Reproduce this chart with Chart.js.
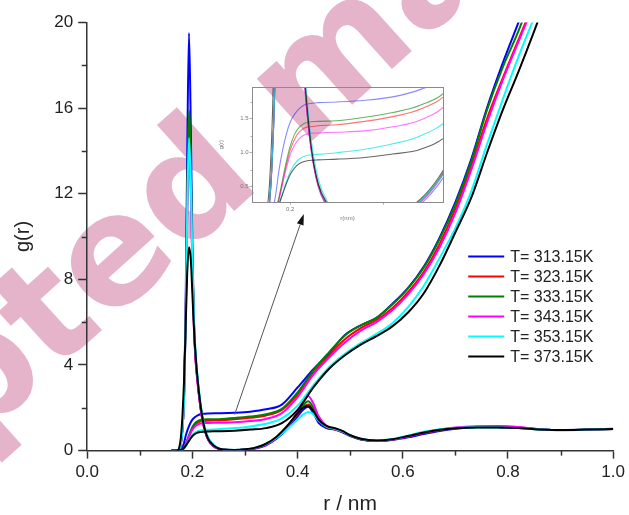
<!DOCTYPE html>
<html><head><meta charset="utf-8">
<script src="https://cdn.jsdelivr.net/npm/chart.js@4.4.1/dist/chart.umd.min.js"></script>
<style>
html,body{margin:0;padding:0;background:#fff;}
#wrap{position:relative;width:629px;height:515px;overflow:hidden;}
#main{position:absolute;left:0;top:0;}
#inset{position:absolute;left:212px;top:80px;}
</style></head><body>
<div id="wrap"><canvas id="main" width="629" height="515"></canvas><canvas id="inset" width="240" height="150"></canvas></div>
<script>
const F = "'Liberation Sans', Arial, sans-serif";
const temps = ['313.15', '323.15', '333.15', '343.15', '353.15', '373.15'];
const xTicksMain = [0, 0.2, 0.4, 0.6, 0.8, 1.0];
const yTicksMain = [0, 4, 8, 12, 16, 20];
const watermarkText = 'Accepted manuscript';

// r grid for g(r)
const rG = [0.16, 0.172, 0.175, 0.178, 0.181, 0.184, 0.187, 0.19, 0.1935, 0.197, 0.2, 0.203, 0.206, 0.21, 0.214, 0.218, 0.223, 0.23, 0.24, 0.25, 0.26, 0.28, 0.30, 0.32, 0.34, 0.36, 0.38, 0.40, 0.41, 0.42, 0.43, 0.44, 0.455, 0.47, 0.485, 0.50, 0.52, 0.55, 0.58, 0.61, 0.64, 0.67, 0.70, 0.74, 0.78, 0.82, 0.86, 0.90, 0.95, 1.00];
const g313 = [0, 0, 0.05, 0.3, 1.0, 2.4, 6.5, 13.5, 19.5, 15.0, 9.5, 6.0, 4.3, 3.2, 2.3, 1.6, 1.0, 0.5, 0.2, 0.08, 0.04, 0.02, 0.04, 0.1, 0.25, 0.55, 1.0, 1.6, 1.9, 2.05, 1.75, 1.3, 1.05, 0.98, 0.85, 0.68, 0.52, 0.45, 0.5, 0.62, 0.78, 0.92, 1.02, 1.1, 1.12, 1.08, 1.0, 0.96, 0.98, 1.02];
const g323 = [0, 0, 0.05, 0.3, 1.0, 2.4, 5.8, 11.2, 15.0, 12.6, 8.6, 5.8, 4.3, 3.2, 2.3, 1.6, 1.0, 0.52, 0.22, 0.09, 0.04, 0.02, 0.05, 0.12, 0.28, 0.6, 1.1, 1.7, 2.0, 2.15, 1.9, 1.45, 1.1, 1.0, 0.88, 0.7, 0.53, 0.45, 0.52, 0.66, 0.82, 0.95, 1.04, 1.1, 1.1, 1.06, 0.99, 0.96, 0.98, 1.01];
const g333 = [0, 0, 0.05, 0.3, 1.0, 2.4, 6.0, 11.8, 15.9, 13.3, 9.0, 6.0, 4.4, 3.25, 2.35, 1.65, 1.02, 0.54, 0.23, 0.09, 0.04, 0.02, 0.05, 0.13, 0.3, 0.62, 1.12, 1.75, 2.1, 2.3, 2.0, 1.5, 1.12, 1.02, 0.9, 0.7, 0.53, 0.45, 0.52, 0.68, 0.85, 0.97, 1.05, 1.09, 1.09, 1.05, 0.99, 0.96, 0.98, 1.01];
const g343 = [0, 0, 0.05, 0.3, 1.0, 2.3, 5.7, 10.8, 14.3, 12.0, 8.3, 5.6, 4.2, 3.1, 2.25, 1.58, 0.98, 0.52, 0.22, 0.09, 0.04, 0.02, 0.05, 0.12, 0.28, 0.6, 1.1, 1.8, 2.3, 2.55, 2.2, 1.6, 1.15, 1.02, 0.9, 0.72, 0.55, 0.46, 0.52, 0.66, 0.84, 0.98, 1.08, 1.14, 1.15, 1.1, 1.0, 0.95, 0.97, 1.01];
const g353 = [0, 0, 0.05, 0.3, 1.0, 2.3, 5.6, 10.9, 14.6, 12.5, 8.8, 6.1, 4.6, 3.4, 2.5, 1.8, 1.15, 0.62, 0.28, 0.12, 0.05, 0.03, 0.06, 0.14, 0.3, 0.6, 1.0, 1.45, 1.68, 1.8, 1.7, 1.4, 1.12, 1.02, 0.9, 0.72, 0.55, 0.47, 0.54, 0.7, 0.88, 1.0, 1.06, 1.09, 1.08, 1.05, 0.99, 0.96, 0.98, 1.01];
const g373 = [0, 0, 0.15, 0.6, 1.6, 3.2, 5.6, 8.2, 9.5, 8.9, 7.3, 5.7, 4.5, 3.3, 2.4, 1.7, 1.05, 0.55, 0.25, 0.1, 0.05, 0.03, 0.06, 0.14, 0.32, 0.65, 1.15, 1.75, 2.0, 2.08, 1.85, 1.45, 1.15, 1.05, 0.92, 0.72, 0.55, 0.47, 0.53, 0.68, 0.85, 0.97, 1.04, 1.08, 1.08, 1.05, 0.99, 0.96, 0.98, 1.01];

// r grid for running coordination number
const rN = [0.17, 0.176, 0.18, 0.184, 0.188, 0.192, 0.196, 0.2, 0.205, 0.21, 0.215, 0.22, 0.23, 0.25, 0.28, 0.31, 0.34, 0.37, 0.4, 0.43, 0.46, 0.49, 0.52, 0.55, 0.58, 0.61, 0.64, 0.67, 0.7, 0.73, 0.76, 0.79, 0.82, 0.85, 0.88];
const n313 = [0, 0.02, 0.1, 0.35, 0.75, 1.05, 1.28, 1.45, 1.57, 1.65, 1.7, 1.72, 1.735, 1.745, 1.77, 1.82, 1.93, 2.15, 2.95, 3.8, 4.55, 5.4, 5.85, 6.2, 6.85, 7.6, 8.6, 9.95, 11.6, 13.6, 16.0, 18.1, 20.0, 21.9, 23.9];
const n323 = [0, 0.01, 0.04, 0.14, 0.33, 0.58, 0.83, 1.04, 1.21, 1.31, 1.36, 1.38, 1.395, 1.41, 1.46, 1.53, 1.64, 1.9, 2.62, 3.62, 4.45, 5.2, 5.72, 6.1, 6.65, 7.4, 8.35, 9.65, 11.3, 13.3, 15.5, 17.4, 19.2, 21.0, 22.9];
const n333 = [0, 0.01, 0.04, 0.15, 0.35, 0.62, 0.88, 1.1, 1.28, 1.38, 1.43, 1.45, 1.46, 1.47, 1.52, 1.59, 1.7, 1.95, 2.72, 3.75, 4.6, 5.38, 5.85, 6.2, 6.82, 7.58, 8.55, 9.88, 11.5, 13.5, 15.9, 17.9, 19.6, 21.6, 23.6];
const n343 = [0, 0.01, 0.04, 0.13, 0.31, 0.55, 0.78, 0.97, 1.12, 1.21, 1.26, 1.28, 1.29, 1.3, 1.32, 1.38, 1.48, 1.75, 2.5, 3.55, 4.35, 5.05, 5.6, 6.0, 6.55, 7.3, 8.25, 9.5, 11.1, 13.1, 15.3, 17.3, 19.1, 20.9, 22.8];
const n353 = [0, 0.01, 0.03, 0.1, 0.23, 0.41, 0.58, 0.72, 0.84, 0.91, 0.945, 0.965, 0.975, 1.0, 1.05, 1.13, 1.25, 1.5, 2.1, 3.05, 3.9, 4.52, 5.02, 5.45, 5.95, 6.7, 7.7, 9.0, 10.4, 12.1, 14.3, 16.4, 18.4, 20.25, 22.1];
const n373 = [0, 0.02, 0.05, 0.12, 0.25, 0.4, 0.55, 0.68, 0.78, 0.84, 0.87, 0.885, 0.895, 0.905, 0.93, 0.98, 1.05, 1.28, 1.9, 2.95, 3.82, 4.45, 4.95, 5.35, 5.8, 6.45, 7.35, 8.65, 10.2, 11.8, 13.9, 15.9, 17.7, 19.6, 21.6];

// arrow from the plateau to the inset (data coordinates)
const arrowFrom = [0.2803, 1.684];
const arrowTo = [0.4118, 11.05];

const gSeries = [g313, g323, g333, g343, g353, g373];
const nSeries = [n313, n323, n333, n343, n353, n373];
const colors = ['#0000ff', '#ff0000', '#008000', '#ff00ff', '#00ffff', '#000000'];
const insetColors = ['rgba(40,40,255,0.55)', 'rgba(255,0,0,0.55)', 'rgba(0,128,0,0.6)', 'rgba(255,0,255,0.55)', 'rgba(0,230,230,0.7)', 'rgba(0,0,0,0.6)'];

function pts(xs, ys) { return xs.map((x, i) => ({x: x, y: ys[i]})); }

function buildDatasets(cols, width) {
  const ds = [];
  temps.forEach((t, i) => {
    const common = {borderColor: cols[i], backgroundColor: cols[i], borderWidth: width, pointRadius: 0, fill: false, cubicInterpolationMode: 'monotone', order: 6 - i};
    ds.push(Object.assign({label: 'T= ' + t + 'K', data: pts(rG, gSeries[i])}, common));
    ds.push(Object.assign({label: 'N ' + t, data: pts(rN, nSeries[i])}, common));
  });
  return ds;
}

const minorTicks = {
  id: 'minorTicks',
  afterDraw(c, args, o) {
    const ctx = c.ctx; ctx.save();
    ctx.strokeStyle = o.color; ctx.lineWidth = o.width;
    const xs = c.scales.x, ys = c.scales.y;
    (o.x || []).forEach(v => { const p = Math.round(xs.getPixelForValue(v)) + 0.5; ctx.beginPath(); ctx.moveTo(p, ys.bottom); ctx.lineTo(p, ys.bottom + o.xLen); ctx.stroke(); });
    (o.y || []).forEach(v => { const p = Math.round(ys.getPixelForValue(v)) + 0.5; ctx.beginPath(); ctx.moveTo(xs.left, p); ctx.lineTo(xs.left - o.yLen, p); ctx.stroke(); });
    ctx.restore();
  }
};

const watermark = {
  id: 'watermark',
  beforeDraw(c) {
    const ctx = c.ctx; ctx.save();
    const fs = 152;
    ctx.font = 'bold ' + fs + 'px "DejaVu Sans", sans-serif';
    ctx.fillStyle = '#e5b4cb';
    const pre = ctx.measureText('Accept').width;
    const ew = ctx.measureText('e').width;
    const a = pre + ew / 2, b = -0.28 * fs;
    const th = -42 * Math.PI / 180;
    const tx = 116, ty = 260;
    const ox = tx - (a * Math.cos(th) - b * Math.sin(th));
    const oy = ty - (a * Math.sin(th) + b * Math.cos(th));
    ctx.translate(ox, oy); ctx.rotate(th);
    ctx.fillText(watermarkText, 0, 0);
    ctx.restore();
  }
};

const legendBox = {
  id: 'legendBox',
  afterDatasetsDraw(c) {
    const a = c.chartArea, ctx = c.ctx; ctx.save();
    ctx.font = '16px ' + F; ctx.textBaseline = 'middle';
    temps.forEach((t, i) => {
      const y = a.top + 234 + i * 20;
      ctx.strokeStyle = colors[i]; ctx.lineWidth = 2;
      ctx.beginPath(); ctx.moveTo(a.left + 381, y); ctx.lineTo(a.left + 417, y); ctx.stroke();
      ctx.fillStyle = '#222'; ctx.fillText('T= ' + t + 'K', a.left + 423, y + 1);
    });
    ctx.restore();
  }
};

const arrow = {
  id: 'arrow',
  afterDatasetsDraw(c) {
    const xs = c.scales.x, ys = c.scales.y, ctx = c.ctx;
    const x0 = xs.getPixelForValue(arrowFrom[0]), y0 = ys.getPixelForValue(arrowFrom[1]);
    const x1 = xs.getPixelForValue(arrowTo[0]), y1 = ys.getPixelForValue(arrowTo[1]);
    const ang = Math.atan2(y1 - y0, x1 - x0);
    const L = 11, W = 3.5;
    const bx = x1 - L * Math.cos(ang), by = y1 - L * Math.sin(ang);
    ctx.save();
    ctx.strokeStyle = '#555'; ctx.lineWidth = 1;
    ctx.beginPath(); ctx.moveTo(x0, y0); ctx.lineTo(bx, by); ctx.stroke();
    ctx.fillStyle = '#111';
    ctx.beginPath(); ctx.moveTo(x1, y1);
    ctx.lineTo(bx + W * Math.sin(ang), by - W * Math.cos(ang));
    ctx.lineTo(bx - W * Math.sin(ang), by + W * Math.cos(ang));
    ctx.closePath(); ctx.fill();
    ctx.restore();
  }
};

const frame = {
  id: 'frame',
  afterDraw(c) {
    const a = c.chartArea, ctx = c.ctx; ctx.save();
    ctx.strokeStyle = '#8a8a8a'; ctx.lineWidth = 1;
    ctx.strokeRect(Math.round(a.left) + 0.5, Math.round(a.top) + 0.5, Math.round(a.right - a.left), Math.round(a.bottom - a.top));
    ctx.restore();
  }
};

new Chart(document.getElementById('main'), {
  type: 'line',
  data: {datasets: buildDatasets(colors, 2)},
  plugins: [watermark, minorTicks, legendBox, arrow],
  options: {
    responsive: false, animation: false, events: [],
    layout: {padding: {left: 11.3, right: 14, top: 22.4, bottom: 0}},
    plugins: {
      legend: {display: false}, tooltip: {enabled: false},
      minorTicks: {x: [0.1, 0.3, 0.5, 0.7, 0.9], y: [2, 6, 10, 14, 18], xLen: 5, yLen: 5.5, color: '#333', width: 1.5}
    },
    scales: {
      x: {
        type: 'linear', min: 0, max: 1,
        border: {color: '#333', width: 1.5},
        grid: {drawOnChartArea: false, drawTicks: true, tickLength: 8, tickColor: '#333', tickWidth: 1.5},
        afterBuildTicks: s => { s.ticks = xTicksMain.map(v => ({value: v})); },
        ticks: {font: {size: 17, family: F}, color: '#222', padding: 4, maxRotation: 0, autoSkip: false, callback: v => v.toFixed(1)},
        title: {display: true, text: 'r / nm', font: {size: 21, family: F, lineHeight: 1}, color: '#222', padding: {top: 7, bottom: 0}}
      },
      y: {
        type: 'linear', min: 0, max: 20,
        border: {color: '#333', width: 1.5},
        grid: {drawOnChartArea: false, drawTicks: true, tickLength: 9, tickColor: '#333', tickWidth: 1.5},
        afterBuildTicks: s => { s.ticks = yTicksMain.map(v => ({value: v})); },
        ticks: {font: {size: 17, family: F}, color: '#222', padding: 5, autoSkip: false, callback: v => String(v)},
        title: {display: true, text: 'g(r)', font: {size: 20, family: F}, color: '#222', padding: {top: 0, bottom: 14}}
      }
    }
  }
});

new Chart(document.getElementById('inset'), {
  type: 'line',
  data: {datasets: buildDatasets(insetColors, 1.1)},
  plugins: [frame, minorTicks],
  options: {
    responsive: false, animation: false, events: [],
    layout: {padding: {left: 6, right: 9, top: 7, bottom: 8}},
    plugins: {
      legend: {display: false}, tooltip: {enabled: false},
      minorTicks: {x: [], y: [0.75, 1.25, 1.75], xLen: 2, yLen: 1.5, color: '#999', width: 0.8}
    },
    scales: {
      x: {
        type: 'linear', min: 0.159, max: 0.364,
        border: {color: '#8a8a8a', width: 1},
        grid: {drawOnChartArea: false, tickLength: 2.5, tickColor: '#999', tickWidth: 0.8},
        afterBuildTicks: s => { s.ticks = [0.2, 0.3].map(v => ({value: v})); },
        ticks: {font: {size: 6, family: F}, color: '#777', padding: 1, maxRotation: 0, autoSkip: false, callback: v => (Math.abs(v - 0.2) < 1e-9 ? '0.2' : '')},
        title: {display: true, text: 'r(nm)', font: {size: 6, family: F}, color: '#777', padding: {top: 1, bottom: 0}}
      },
      y: {
        type: 'linear', min: 0.274, max: 1.965,
        border: {color: '#8a8a8a', width: 1},
        grid: {drawOnChartArea: false, tickLength: 2.5, tickColor: '#999', tickWidth: 0.8},
        afterBuildTicks: s => { s.ticks = [0.5, 1.0, 1.5].map(v => ({value: v})); },
        ticks: {font: {size: 6, family: F}, color: '#777', padding: 1, autoSkip: false, callback: v => v.toFixed(1)},
        title: {display: true, text: 'g(r)', font: {size: 6, family: F}, color: '#777', padding: {top: 0, bottom: 14}}
      }
    }
  }
});
</script>
</body></html>
